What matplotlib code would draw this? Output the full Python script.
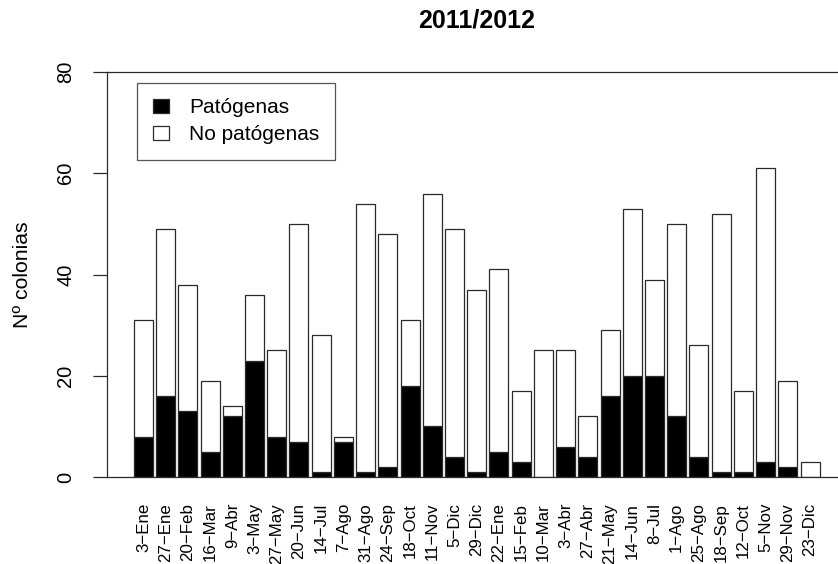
import numpy as np
import matplotlib
matplotlib.use('Agg')
from matplotlib import pyplot as plt

plt.rcParams['font.family'] = ['Liberation Sans', 'DejaVu Sans']

# sampling dates, two years of counts
fechas = ['3-Ene', '27-Ene', '20-Feb', '16-Mar', '9-Abr', '3-May', '27-May',
          '20-Jun', '14-Jul', '7-Ago', '31-Ago', '24-Sep', '18-Oct', '11-Nov',
          '5-Dic', '29-Dic', '22-Ene', '15-Feb', '10-Mar', '3-Abr', '27-Abr',
          '21-May', '14-Jun', '8-Jul', '1-Ago', '25-Ago', '18-Sep', '12-Oct',
          '5-Nov', '29-Nov', '23-Dic']
patogenas = [8, 16, 13, 5, 12, 23, 8, 7, 1, 7, 1, 2, 18, 10, 4, 1,
             5, 3, 0, 6, 4, 16, 20, 20, 12, 4, 1, 1, 3, 2, 0]
no_patogenas = [23, 33, 25, 14, 2, 13, 17, 43, 27, 1, 53, 46, 13, 46, 45, 36,
                36, 14, 25, 19, 8, 13, 33, 19, 38, 22, 51, 16, 58, 17, 3]

W, H = 838, 564
fig = plt.figure(figsize=(W / 100, H / 100), dpi=100)
ax = fig.add_axes([107 / W, 87 / H, 731 / W, 405 / H])

x = np.arange(len(fechas))
ec = '#2a2a2a'
ax.bar(x, patogenas, width=0.855, color='black', edgecolor=ec, linewidth=0.9,
       label='Patógenas')
ax.bar(x, no_patogenas, width=0.855, bottom=patogenas, color='white',
       edgecolor=ec, linewidth=0.9, label='No patógenas')

ax.set_xlim(-1.64, 31.26)
ax.set_ylim(0, 80)

ax.spines['right'].set_visible(False)
for s in ['left', 'top', 'bottom']:
    ax.spines[s].set_color(ec)
    ax.spines[s].set_linewidth(0.9)

ax.set_yticks([0, 20, 40, 60, 80])
ax.tick_params(axis='y', length=9.9, width=0.9, color=ec, pad=12.8,
               labelsize=14.5, labelrotation=90)
for lab in ax.get_yticklabels():
    lab.set_va('center')

ax.set_xticks(x)
ax.set_xticklabels([f.replace('-', '\u2212') for f in fechas], rotation=90,
                   fontsize=12.2, va='top')
ax.tick_params(axis='x', length=0, pad=18.7)

fig.text(22 / W, 1 - 274.5 / H, 'Nº colonias', rotation=90, ha='center',
         va='center', fontsize=15.3)
fig.text(477 / W, 1 - 20 / H, '2011/2012', ha='center', va='center',
         fontsize=18, fontweight='bold')

leg = ax.legend(loc='upper left', bbox_to_anchor=(0.0417, 0.974),
                borderaxespad=0, fontsize=15, frameon=True, fancybox=False,
                handlelength=0.77, handleheight=0.65, handletextpad=0.96,
                borderpad=0.75, labelspacing=0.4)
leg.get_frame().set_edgecolor(ec)
leg.get_frame().set_linewidth(0.9)

fig.savefig('out.png', dpi=100)
